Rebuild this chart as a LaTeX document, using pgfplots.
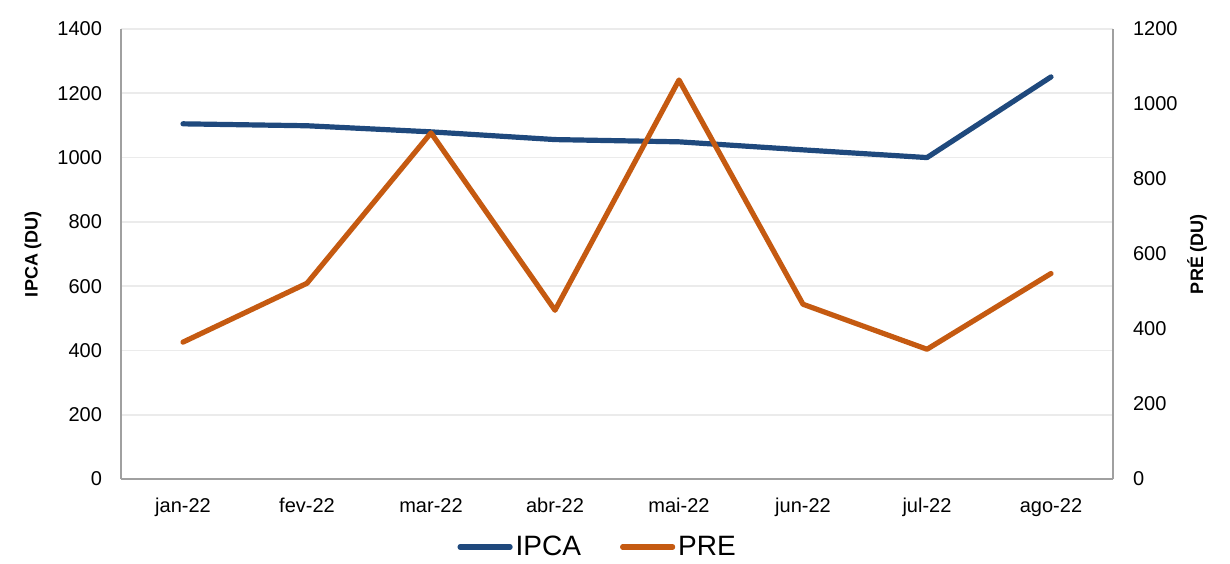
\documentclass[border=0pt]{standalone}
\usepackage{pgfplots}
\pgfplotsset{compat=1.18}
\usepackage{fontspec}
\setmainfont{Liberation Sans}
\definecolor{ipca}{RGB}{31,73,125}
\definecolor{pre}{RGB}{197,90,17}
\definecolor{axgray}{RGB}{160,160,160}
\definecolor{gridc}{RGB}{235,235,235}
\pgfplotsset{
  common/.style={
    at={(0,0)}, anchor=south west, scale only axis,
    width=496pt, height=225pt,
    xmin=-0.5, xmax=7.5, ymin=0,
    major tick length=0pt, tick style={draw=none},
    axis line style={axgray, line width=0.8pt},
    tick label style={font=\fontsize{10}{12}\selectfont},
    /pgf/number format/assume math mode=true,
    /pgf/number format/set thousands separator={},
    label style={font=\bfseries\fontsize{9}{11}\selectfont},
  }
}
\begin{document}
\begin{tikzpicture}
\path[use as bounding box] (-60.5pt,-42pt) rectangle (554.5pt,239.5pt);
\begin{axis}[common,
  ymax=1400, ytick={0,200,...,1400},
  axis x line*=bottom, axis y line*=left,
  xtick={0,...,7},
  xticklabels={jan-22,fev-22,mar-22,abr-22,mai-22,jun-22,jul-22,ago-22},
  xticklabel style={yshift=-6pt},
  yticklabel style={xshift=-6pt},
  ymajorgrids, grid style={gridc, line width=0.8pt},
  ylabel={IPCA (DU)},
  ylabel style={at={(axis description cs:-0.0887,0.5)}, anchor=center},
]
\addplot[ipca, line width=2.6pt, line cap=round, line join=round] coordinates {
 (0,1105) (1,1099) (2,1080) (3,1056) (4,1049) (5,1024) (6,1000) (7,1251)
};
\end{axis}
\begin{axis}[common,
  ymax=1200, ytick={0,200,...,1200},
  axis y line*=right, axis x line=none,
  yticklabel style={xshift=6.5pt},
  ylabel={PRÉ (DU)},
  ylabel style={at={(axis description cs:1.0847,0.5)}, anchor=center},
  legend columns=2,
  legend style={draw=none, fill=none, at={(axis description cs:0.481,-0.151)}, anchor=center,
    font=\fontsize{14}{16}\selectfont, column sep=0pt,
    nodes={inner xsep=1.5pt},
    /tikz/every even column/.append style={column sep=18pt}},
  legend image code/.code={\draw[#1, line cap=round] (0pt,0pt) -- (25pt,0pt);},
]
\addlegendimage{ipca, line width=2.6pt}
\addlegendentry{IPCA}
\addplot[pre, line width=2.6pt, line cap=round, line join=round] coordinates {
 (0,365) (1,522) (2,923) (3,450) (4,1064) (5,466) (6,346) (7,548)
};
\addlegendentry{PRE}
\end{axis}
\end{tikzpicture}
\end{document}
